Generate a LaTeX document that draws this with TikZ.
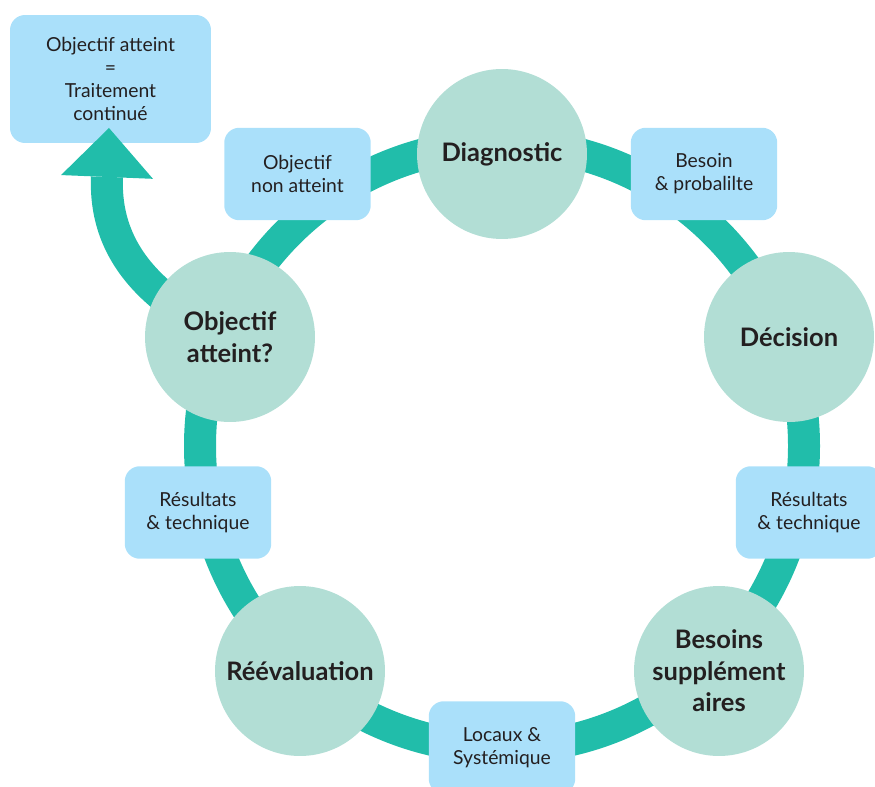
\documentclass[tikz,border=0pt]{standalone}
\usepackage{fontspec}
\setmainfont{Lato}
\usetikzlibrary{arrows.meta}

\definecolor{vertanneau}{RGB}{33,189,170}
\definecolor{vertclair}{RGB}{178,222,213}
\definecolor{bleuclair}{RGB}{170,224,250}
\definecolor{gristexte}{RGB}{35,31,32}

\pgfdeclarelayer{arriere}
\pgfsetlayers{arriere,main}

\begin{document}
\begin{tikzpicture}[
        x=0.02cm, y=-0.02cm,
        every node/.style={text=gristexte},
        etape/.style={
            circle,
            fill=vertclair,
            minimum size=3.4cm,
            inner sep=0pt,
            align=center,
            font=\fontsize{14.5}{18}\selectfont\bfseries
        },
        boite/.style={
            fill=bleuclair,
            rounded corners=0.3cm,
            minimum width=2.93cm,
            minimum height=1.85cm,
            inner sep=0pt,
            align=center,
            font=\fontsize{11}{13}\selectfont
        },
        anneau/.style={draw=vertanneau, line width=0.64cm},
        fleche/.style={
            draw=vertanneau,
            line width=0.64cm,
            -{Triangle[length=0.98cm, width=1.84cm, line width=0pt]}
        }
    ]

        % Cadre de l'image
        \clip (0,0) rectangle (875,787);

        % Centre de l'anneau et pointe de la fleche
        \coordinate (centre) at (502,446);
        \coordinate (pointe) at (109,128);

        % Etapes du cycle
        \node[etape] (diag) at (502,154) {Diagnostic};
        \node[etape] (decision) at (789,337) {Décision};
        \node[etape] (besoins) at (719,671) {Besoins\\supplément\\aires};
        \node[etape] (reeval) at (300,671) {Réévaluation};
        \node[etape] (obj) at (230,337) {Objectif\\atteint?};

        % Boites entre les etapes
        \node[boite] (nonatteint) at (297.5,174) {Objectif\\non atteint};
        \node[boite] (probab) at (704,174) {Besoin\\\& probalilte};
        \node[boite] (resdroite) at (809,512.5) {Résultats\\\& technique};
        \node[boite] (locaux) at (502,747.5) {Locaux \&\\Systémique};
        \node[boite] (resgauche) at (198,512.5) {Résultats\\\& technique};

        \begin{pgfonlayer}{arriere}
            % Anneau
            \draw[anneau] (centre) circle (302);

            % Sortie du cycle
            \node[boite, minimum width=4.02cm, minimum height=2.56cm] (fin)
                at (110.5,79) {Objectif atteint\\=\\Traitement\\continué};
            \draw[fleche] (obj.center) .. controls (150,300) and (104,250) .. (pointe);
        \end{pgfonlayer}

    \end{tikzpicture}
\end{document}
